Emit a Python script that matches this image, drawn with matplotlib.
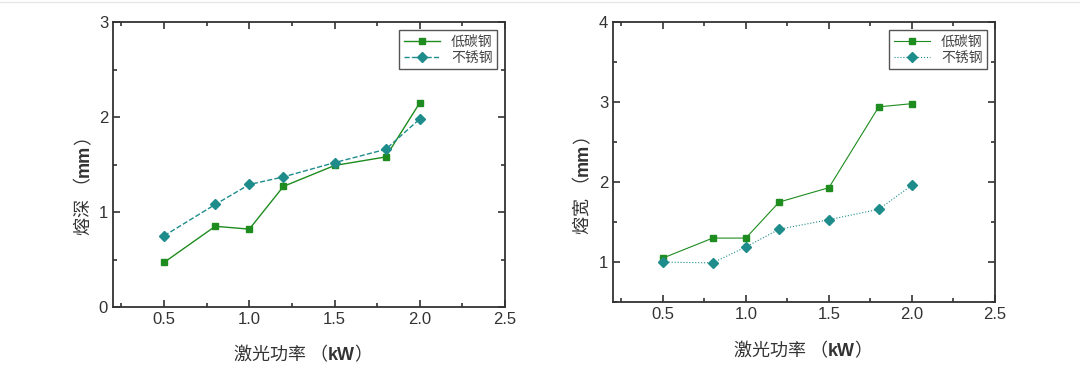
import matplotlib.pyplot as plt
import numpy as np
from matplotlib.ticker import MultipleLocator

plt.rcParams['font.family'] = ['Liberation Sans', 'Noto Sans CJK SC', 'DejaVu Sans']

# 数据
power = [0.5, 0.8, 1.0, 1.2, 1.5, 1.8, 2.0]
depth_low = [0.47, 0.85, 0.82, 1.27, 1.49, 1.58, 2.15]
depth_ss = [0.75, 1.08, 1.29, 1.37, 1.52, 1.66, 1.98]
width_low = [1.05, 1.30, 1.30, 1.75, 1.93, 2.94, 2.98]
width_ss = [1.00, 0.99, 1.19, 1.41, 1.53, 1.66, 1.96]
names = ["低碳钢", "不锈钢"]
xlab = [("激光功率 （", "normal"), ("kW", "bold"), ("）", "normal")]
ylab1 = [("熔深 （", "normal"), ("mm", "bold"), ("）", "normal")]
ylab2 = [("熔宽 （", "normal"), ("mm", "bold"), ("）", "normal")]

green = "#1e8c1e"
teal = "#1f8c8c"
txt = "#333333"

W, H = 1080, 380
fig = plt.figure(figsize=(10.8, 3.8), dpi=100)
ax1 = fig.add_axes([0.1046, 0.192, 0.363, 0.750])
ax2 = fig.add_axes([0.5676, 0.205, 0.3537, 0.737])


def style(ax, ylim, ymajor):
    ax.set_xlim(0.2, 2.5)
    ax.set_ylim(*ylim)
    ax.xaxis.set_major_locator(MultipleLocator(0.5))
    ax.xaxis.set_minor_locator(MultipleLocator(0.25))
    ax.yaxis.set_major_locator(MultipleLocator(ymajor))
    ax.yaxis.set_minor_locator(MultipleLocator(ymajor / 2))
    ax.tick_params(which="both", direction="in", top=True, right=True,
                   colors=txt, labelsize=12, width=1.2)
    ax.tick_params(which="major", length=5)
    ax.tick_params(which="minor", length=3)
    ax.xaxis.set_major_formatter(plt.FuncFormatter(lambda v, p: f"{v:.1f}"))
    ax.yaxis.set_major_formatter(plt.FuncFormatter(lambda v, p: f"{v:g}"))
    for s in ax.spines.values():
        s.set_linewidth(1.3)
        s.set_color(txt)


def rich(cx, cy, pieces, rotation=0):
    # 分段文字：中文常规，单位加粗；(cx, cy) 为中心像素坐标（自上而下）
    r = fig.canvas.get_renderer()
    ts = []
    for s, w in pieces:
        fam = ["Liberation Sans"] if w == "bold" else ["Noto Sans CJK SC", "DejaVu Sans"]
        t = fig.text(0, 0, s, fontsize=13, fontweight=w, family=fam, color=txt,
                     rotation=rotation, ha="left" if rotation == 0 else "center",
                     va="center" if rotation == 0 else "bottom")
        ts.append(t)
    sizes = [t.get_window_extent(r) for t in ts]
    if rotation == 0:
        total = sum(b.width for b in sizes)
        x = cx - total / 2
        for t, b in zip(ts, sizes):
            t.set_position((x / W, 1 - cy / H))
            x += b.width
    else:
        total = sum(b.height for b in sizes)
        y = (H - cy) - total / 2
        for t, b in zip(ts, sizes):
            t.set_position((cx / W, y / H))
            y += b.height


ax1.plot(power, depth_low, color=green, marker="s", ms=5, lw=1, ls="-", label=names[0])
ax1.plot(power, depth_ss, color=teal, marker="D", ms=5, lw=1, ls="--", label=names[1])
style(ax1, (0, 3), 1)

ax2.plot(power, width_low, color=green, marker="s", ms=5, lw=0.8, ls="-", label=names[0])
ax2.plot(power, width_ss, color=teal, marker="D", ms=5, lw=0.8, ls=":", label=names[1])
style(ax2, (0.5, 4), 1)

for ax in (ax1, ax2):
    leg = ax.legend(loc="upper right", fontsize=10, fancybox=False, framealpha=1,
                    edgecolor="#555555", borderpad=0.3, labelspacing=0.2,
                    handlelength=2.6, borderaxespad=0.6)
    for t in leg.get_texts():
        t.set_color("#444444")

rich(303, 355, xlab)
rich(803, 351, xlab)
rich(84, 181, ylab1, rotation=90)
rich(583, 180, ylab2, rotation=90)

fig.add_artist(plt.Line2D([0, 1], [0.995, 0.995], color="#e6e6e6", lw=1))
fig.savefig("out.png", dpi=100, facecolor="white")
